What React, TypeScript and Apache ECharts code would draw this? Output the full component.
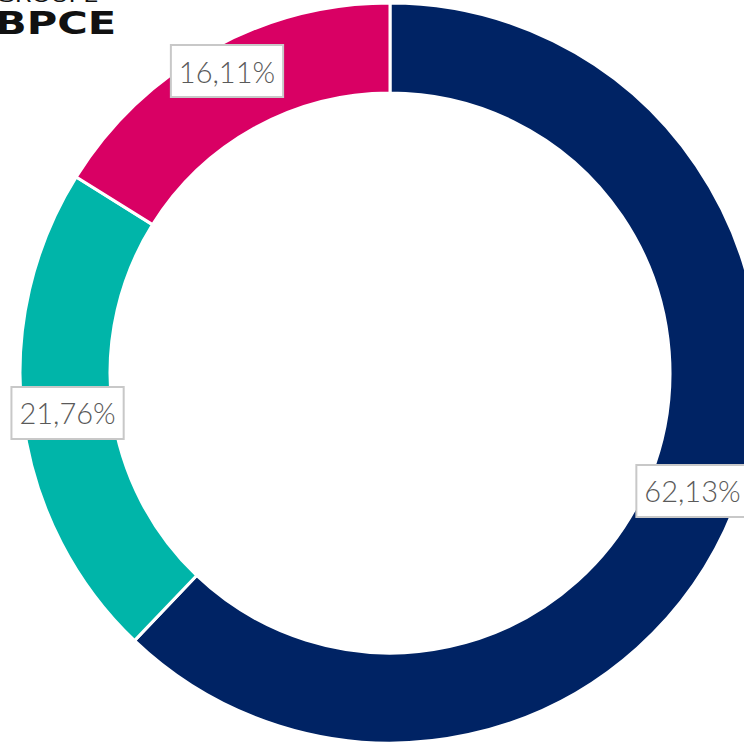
import React, { useEffect, useRef } from "react";
import * as echarts from "echarts";

const categories = ["Bleu", "Vert", "Rose"];
const values = [62.13, 21.76, 16.11];
const labels = ["62,13%", "21,76%", "16,11%"];
const colors = ["#002364", "#00B5A9", "#D90064"];

export default function App() {
  const ref = useRef<HTMLDivElement>(null);
  useEffect(() => {
    document.body.style.margin = "0";
    const chart = echarts.init(ref.current!, null, { renderer: "svg" });
    chart.setOption({
      animation: false,
      graphic: [
        {
          type: "text",
          x: -4,
          y: -13,
          scaleX: 1.35,
          style: { text: "GROUPE", font: "18px 'DejaVu Sans'", fill: "#111" },
        },
        {
          type: "text",
          x: -5,
          y: 7,
          scaleX: 1.3,
          style: { text: "BPCE", font: "bold 32px 'DejaVu Sans'", fill: "#111" },
        },
      ],
      series: [
        {
          type: "pie",
          center: [390, 373],
          radius: [280, 370],
          startAngle: 90,
          clockwise: true,
          avoidLabelOverlap: false,
          itemStyle: { borderColor: "#fff", borderWidth: 3 },
          label: {
            show: true,
            position: "inside",
            formatter: (p: any) => labels[p.dataIndex],
            color: "#5a5a5a",
            fontFamily: "Lato",
            fontWeight: 300,
            fontSize: 29,
            backgroundColor: "#fff",
            borderColor: "#c8c8c8",
            borderWidth: 2,
            padding: [11, 7, 10, 7],
          },
          labelLine: { show: false },
          emphasis: { disabled: true },
          data: categories.map((c, i) => ({
            name: c,
            value: values[i],
            itemStyle: { color: colors[i] },
            label: i === 2 ? { offset: [-4, -15] } : i === 0 ? { offset: [-2, -4] } : { offset: [3, -1] },
          })),
        },
      ],
    });
    return () => chart.dispose();
  }, []);
  return (
    <div
      ref={ref}
      style={{ position: "absolute", left: 0, top: 0, width: 744, height: 743 }}
    />
  );
}
